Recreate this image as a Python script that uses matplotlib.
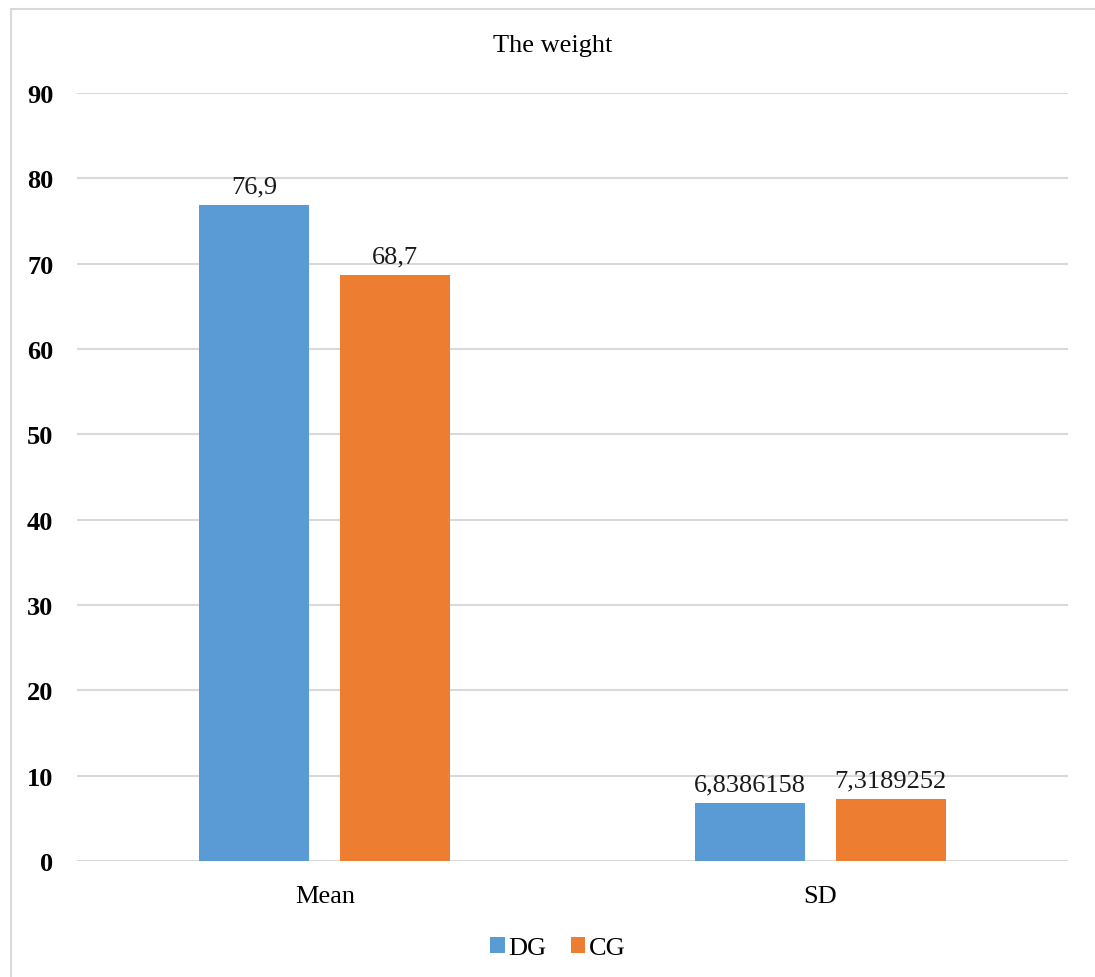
import numpy as np
import matplotlib.pyplot as plt
from matplotlib.patches import Rectangle

categories = ["Mean", "SD"]
dg_values = [76.9, 6.8386158]
cg_values = [68.7, 7.3189252]
dg_labels = ["76,9", "6,8386158"]
cg_labels = ["68,7", "7,3189252"]
y_ticks = [0, 10, 20, 30, 40, 50, 60, 70, 80, 90]

plt.rcParams["font.family"] = ["Liberation Serif", "DejaVu Serif"]

W, H = 1095, 978
fig = plt.figure(figsize=(W / 100, H / 100), dpi=100)
ax = fig.add_axes([77 / W, 1 - 862 / H, (1068 - 77) / W, (862 - 94) / H])

x = np.arange(len(categories))
width = 0.222
offset = 0.142
b1 = ax.bar(x - offset, dg_values, width, color="#5B9BD5", label="DG", zorder=3)
b2 = ax.bar(x + offset, cg_values, width, color="#ED7D31", label="CG", zorder=3)

for bars, labs in [(b1, dg_labels), (b2, cg_labels)]:
    for rect, lab in zip(bars, labs):
        ax.annotate(lab, (rect.get_x() + rect.get_width() / 2, rect.get_height()),
                    xytext=(0, 7), textcoords="offset pixels",
                    ha="center", va="bottom", fontsize=19, color="#1a1a1a")

ax.set_xlim(-0.5, 1.5)
ax.set_ylim(0, 90)
ax.set_yticks(y_ticks)
ax.set_yticklabels([str(t) for t in y_ticks], fontsize=19, fontweight="bold")
ax.set_xticks(x)
ax.set_xticklabels(categories, fontsize=19)
ax.tick_params(axis="both", length=0)
ax.tick_params(axis="y", pad=17)
ax.tick_params(axis="x", pad=17)
ax.grid(axis="y", color="#D9D9D9", linewidth=1.5, zorder=0)
for s in ax.spines.values():
    s.set_visible(False)

fig.text(553 / W, 1 - 46 / H, "The weight", fontsize=19, ha="center", va="center")

leg = fig.legend(loc="center", bbox_to_anchor=(558 / W, 1 - 949 / H), ncol=2,
                 frameon=False, fontsize=19, handlelength=0.55, handleheight=0.55,
                 handletextpad=0.15, columnspacing=0.9)

fig.patches.append(Rectangle((10.5 / W, -0.1), 1.2, 1 - 9.5 / H + 0.1,
                             transform=fig.transFigure, fill=False,
                             edgecolor="#D9D9D9", linewidth=1.5))

fig.savefig("out.png", dpi=100)
